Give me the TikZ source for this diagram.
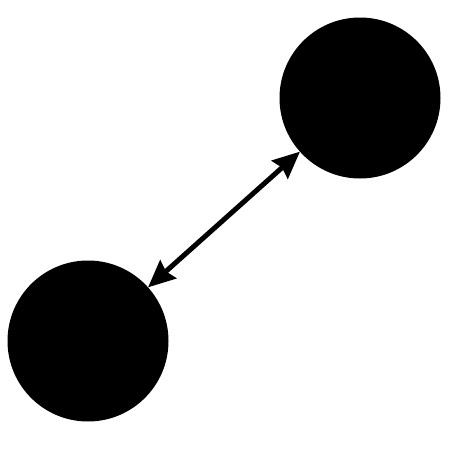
\documentclass[tikz,border=0pt]{standalone}
\usetikzlibrary{arrows.meta}
\begin{document}
\begin{tikzpicture}[x=1pt,y=-1pt,
  ball/.style={circle,fill=black,inner sep=0pt,minimum size=161pt,outer sep=0pt},
  head/.style={Stealth[length=27pt,width=24pt,inset=3pt]},
  link/.style={line width=5pt,{Stealth[length=27pt,width=24pt,inset=3pt]}-{Stealth[length=27pt,width=24pt,inset=3pt]}}]
\useasboundingbox[fill=white] (0,0) rectangle (450,450);
\node[ball] (a) at (360,98) {};
\node[ball] (b) at (88,341) {};
\draw[link] (b) -- (a);
\end{tikzpicture}
\end{document}
